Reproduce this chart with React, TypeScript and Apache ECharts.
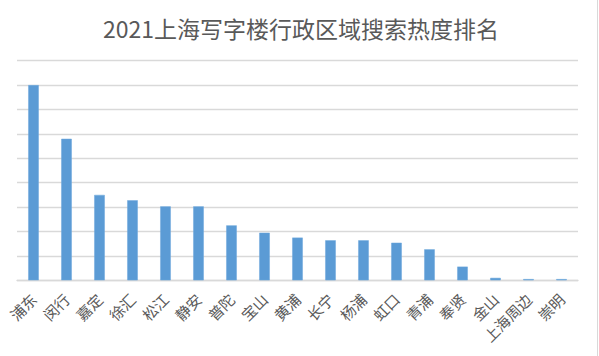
import React, { useEffect, useRef } from "react";
import * as echarts from "echarts";

const title = "2021上海写字楼行政区域搜索热度排名";
const categories = ["浦东", "闵行", "嘉定", "徐汇", "松江", "静安", "普陀", "宝山", "黄浦", "长宁", "杨浦", "虹口", "青浦", "奉贤", "金山", "上海周边", "崇明"];
const values = [80, 58, 35, 32.8, 30.3, 30.3, 22.5, 19.5, 17.5, 16.4, 16.4, 15.4, 12.7, 5.6, 1.0, 0.5, 0.5];

export default function App() {
  const ref = useRef<HTMLDivElement>(null);
  useEffect(() => {
    const chart = echarts.init(ref.current!, null, { renderer: "svg" });
    chart.setOption({
      animation: false,
      backgroundColor: "#ffffff",
      title: {
        text: title,
        left: 296,
        textAlign: "center",
        top: 11,
        textStyle: { fontSize: 23, fontWeight: "normal", color: "#595959", fontFamily: "Noto Sans CJK SC" },
      },
      grid: { left: 17, right: 21, top: 60.7, bottom: 75.7, containLabel: false },
      xAxis: {
        type: "category",
        data: categories,
        axisLine: { lineStyle: { color: "#d9d9d9", width: 1.3 } },
        axisTick: { show: false },
        axisLabel: {
          rotate: 45,
          interval: 0,
          margin: 16,
          fontSize: 15,
          color: "#595959",
          fontFamily: "Noto Sans CJK SC",
        },
      },
      yAxis: {
        type: "value",
        min: 0,
        max: 90,
        interval: 10,
        axisLabel: { show: false },
        axisLine: { show: false },
        axisTick: { show: false },
        splitLine: { lineStyle: { color: "#d9d9d9", width: 1.3 } },
      },
      series: [
        {
          type: "bar",
          data: values,
          barWidth: "32%",
          itemStyle: { color: "#5b9bd5", borderColor: "#6fa8dc", borderWidth: 0.5 },
        },
      ],
      graphic: [
        {
          type: "line",
          shape: { x1: 597.5, y1: 0, x2: 597.5, y2: 356 },
          style: { stroke: "#d9d9d9", lineWidth: 1 },
        },
      ],
    });
    return () => chart.dispose();
  }, []);
  return <div ref={ref} style={{ position: "fixed", left: 0, top: 0, width: 599, height: 356 }} />;
}
